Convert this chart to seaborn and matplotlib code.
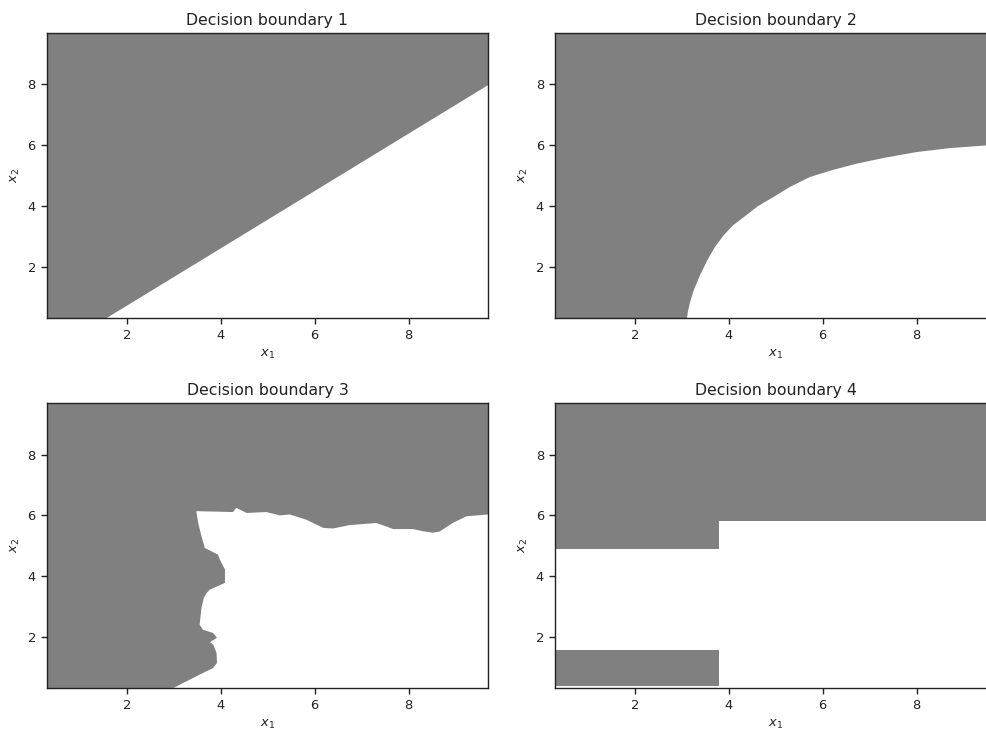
import numpy as np
import matplotlib
matplotlib.use("Agg")
import matplotlib.pyplot as plt
import seaborn as sns

# boundary values
x_lim = (0.3, 9.69)
y_lim = (0.32, 9.69)

# 1: straight line, gray above
b1_x = [0.3, 1.53, 9.69]
b1_y = [-0.86, 0.3, 8.0]

# 2: curved boundary, gray above/left
b2_x = [0.3, 3.10, 3.12, 3.17, 3.24, 3.38, 3.53, 3.70, 3.88, 4.08, 4.31, 4.60,
        4.94, 5.30, 5.72, 6.20, 6.72, 7.30, 7.99, 8.70, 9.49, 9.69]
b2_y = [0.32, 0.32, 0.55, 0.88, 1.23, 1.75, 2.22, 2.68, 3.05, 3.38, 3.65, 4.00,
        4.31, 4.65, 4.97, 5.20, 5.41, 5.60, 5.79, 5.92, 6.01, 6.03]

# 3: white region outline (gray elsewhere)
b3_x = [3.48, 4.26, 4.33, 4.55, 4.97, 5.26, 5.47, 5.82, 6.18, 6.39, 6.74, 7.31,
        7.52, 7.67, 8.09, 8.30, 8.52, 8.66, 8.94, 9.23, 9.69,
        9.69, 2.99,
        3.27, 3.55, 3.84, 3.92, 3.91, 3.84, 3.77, 3.92, 3.84, 3.62, 3.55, 3.57,
        3.59, 3.64, 3.70, 3.77, 4.09, 4.09, 3.98, 3.94, 3.84, 3.66, 3.59, 3.52]
b3_y = [6.14, 6.11, 6.25, 6.08, 6.11, 6.00, 6.03, 5.86, 5.59, 5.57, 5.68, 5.75,
        5.64, 5.55, 5.55, 5.48, 5.43, 5.47, 5.75, 5.97, 6.03,
        0.32, 0.32,
        0.54, 0.76, 0.98, 1.15, 1.48, 1.75, 1.83, 1.97, 2.13, 2.24, 2.41, 2.68,
        2.96, 3.29, 3.45, 3.56, 3.78, 4.22, 4.55, 4.71, 4.79, 4.93, 5.31, 5.75]

# 4: axis-aligned splits
split_x1 = 3.79
upper_left_y, upper_right_y = 4.91, 5.82
lower_left_y = (0.38, 1.57)

gray = "#808080"

sns.set_theme(style="ticks", rc={
    "axes.edgecolor": "#222222",
    "axes.linewidth": 1.0,
    "xtick.color": "#222222",
    "ytick.color": "#222222",
    "xtick.major.size": 4.5,
    "ytick.major.size": 4.5,
    "xtick.major.width": 1.0,
    "ytick.major.width": 1.0,
    "text.color": "#222222",
    "axes.labelcolor": "#222222",
})
plt.rcParams["font.family"] = ["DejaVu Sans"]
plt.rcParams["font.size"] = 9.4
plt.rcParams["axes.titlesize"] = 11.3
plt.rcParams["axes.labelsize"] = 9.4
plt.rcParams["xtick.labelsize"] = 9.4
plt.rcParams["ytick.labelsize"] = 9.4

fig, axes = plt.subplots(2, 2, figsize=(9.87, 7.29), dpi=100)
fig.subplots_adjust(left=0.0476, right=1.0091, top=0.9547, bottom=0.0562,
                    wspace=0.152, hspace=0.30)
axes = axes.ravel()

# panel 1
axes[0].fill_between(b1_x, b1_y, y_lim[1], color=gray, lw=0)

# panel 2
axes[1].fill_between(b2_x, b2_y, y_lim[1], color=gray, lw=0)

# panel 3
axes[2].set_facecolor(gray)
axes[2].fill(b3_x, b3_y, color="white", lw=0)

# panel 4
axes[3].fill_between([x_lim[0], split_x1, split_x1, x_lim[1]],
                     [upper_left_y, upper_left_y, upper_right_y, upper_right_y],
                     y_lim[1], color=gray, lw=0)
axes[3].fill_between([x_lim[0], split_x1], lower_left_y[0], lower_left_y[1],
                     color=gray, lw=0)

for i, ax in enumerate(axes):
    ax.set_xlim(*x_lim)
    ax.set_ylim(*y_lim)
    ax.set_xticks([2, 4, 6, 8])
    ax.set_yticks([2, 4, 6, 8])
    for s in ax.spines.values():
        s.set_visible(True)
    ax.set_title(f"Decision boundary {i + 1}")
    ax.set_xlabel("$x_1$")
    ax.set_ylabel("$x_2$")

fig.savefig("out.png", dpi=100)
